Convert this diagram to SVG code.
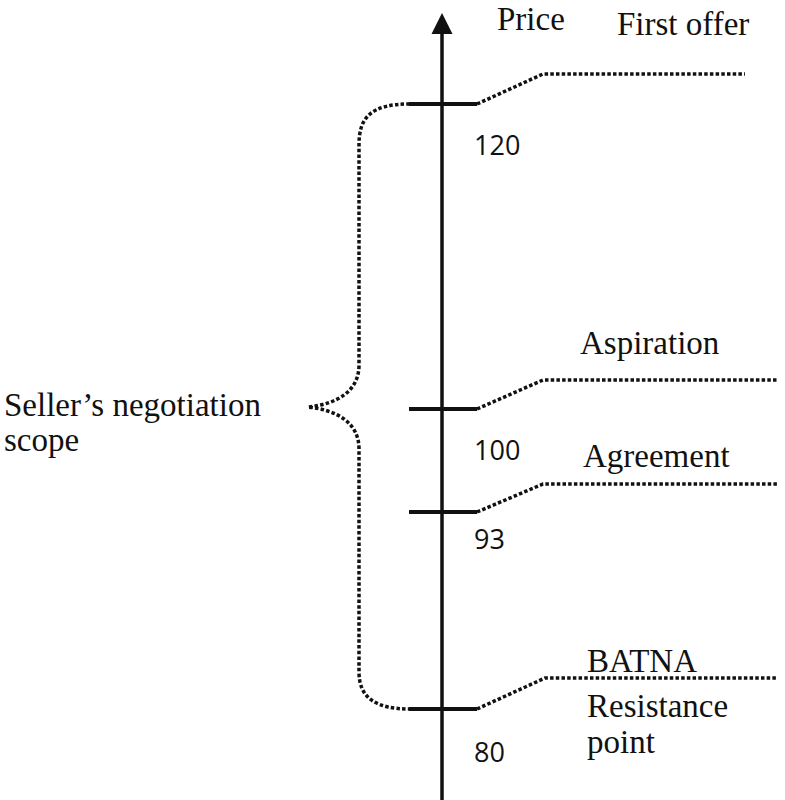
<svg xmlns="http://www.w3.org/2000/svg" width="785" height="800" viewBox="0 0 785 800">
<style>
.axis{stroke:#111;stroke-width:3.5;fill:none}
.tick{stroke:#111;stroke-width:3.8;fill:none}
.dot{stroke:#111;stroke-width:3.5;stroke-dasharray:3.5 2.2;fill:none}
.lbl{font-family:'Liberation Serif','Times New Roman',serif;font-size:33px;fill:#111}
.num{font-family:'Open Sans','Liberation Sans',sans-serif;font-size:27px;fill:#111}
</style>
<g id="connectors">
<path class="dot" d="M477,104 L543,74 L745,74"/>
<path class="dot" d="M477,409 L543,380 L778,380"/>
<path class="dot" d="M477,512 L543,484 L778,484"/>
<path class="dot" d="M477,709 L545,678 L778,678"/>
<path class="dot" d="M410,104 C370,104 359,118 359,145 L359,365 C359,392 336,404 308,407 C336,410 359,422 359,449 L359,672 C359,698 376,709 410,709"/>
</g>
<g id="axis">
<line class="axis" x1="442" y1="800" x2="442" y2="34"/>
<path d="M431.5,34 L442,13 L452.5,34 Z" fill="#111"/>
<text class="lbl" x="497" y="30">Price</text>
</g>
<g id="first-offer">
<line class="tick" x1="409" y1="104" x2="477" y2="104"/>
<text class="num" x="474" y="155">120</text>
<text class="lbl" x="617" y="35">First offer</text>
</g>
<g id="aspiration">
<line class="tick" x1="409" y1="409" x2="477" y2="409"/>
<text class="num" x="474" y="460">100</text>
<text class="lbl" x="580" y="354">Aspiration</text>
</g>
<g id="agreement">
<line class="tick" x1="409" y1="512" x2="477" y2="512"/>
<text class="num" x="474" y="549">93</text>
<text class="lbl" x="583" y="467">Agreement</text>
</g>
<g id="batna">
<line class="tick" x1="409" y1="709" x2="477" y2="709"/>
<text class="num" x="474" y="762">80</text>
<text class="lbl" x="587" y="672">BATNA</text>
<text class="lbl" x="587" y="717">Resistance</text>
<text class="lbl" x="587" y="753">point</text>
</g>
<g id="scope">
<text class="lbl" x="4" y="416">Seller’s negotiation</text>
<text class="lbl" x="4" y="451">scope</text>
</g>
</svg>
